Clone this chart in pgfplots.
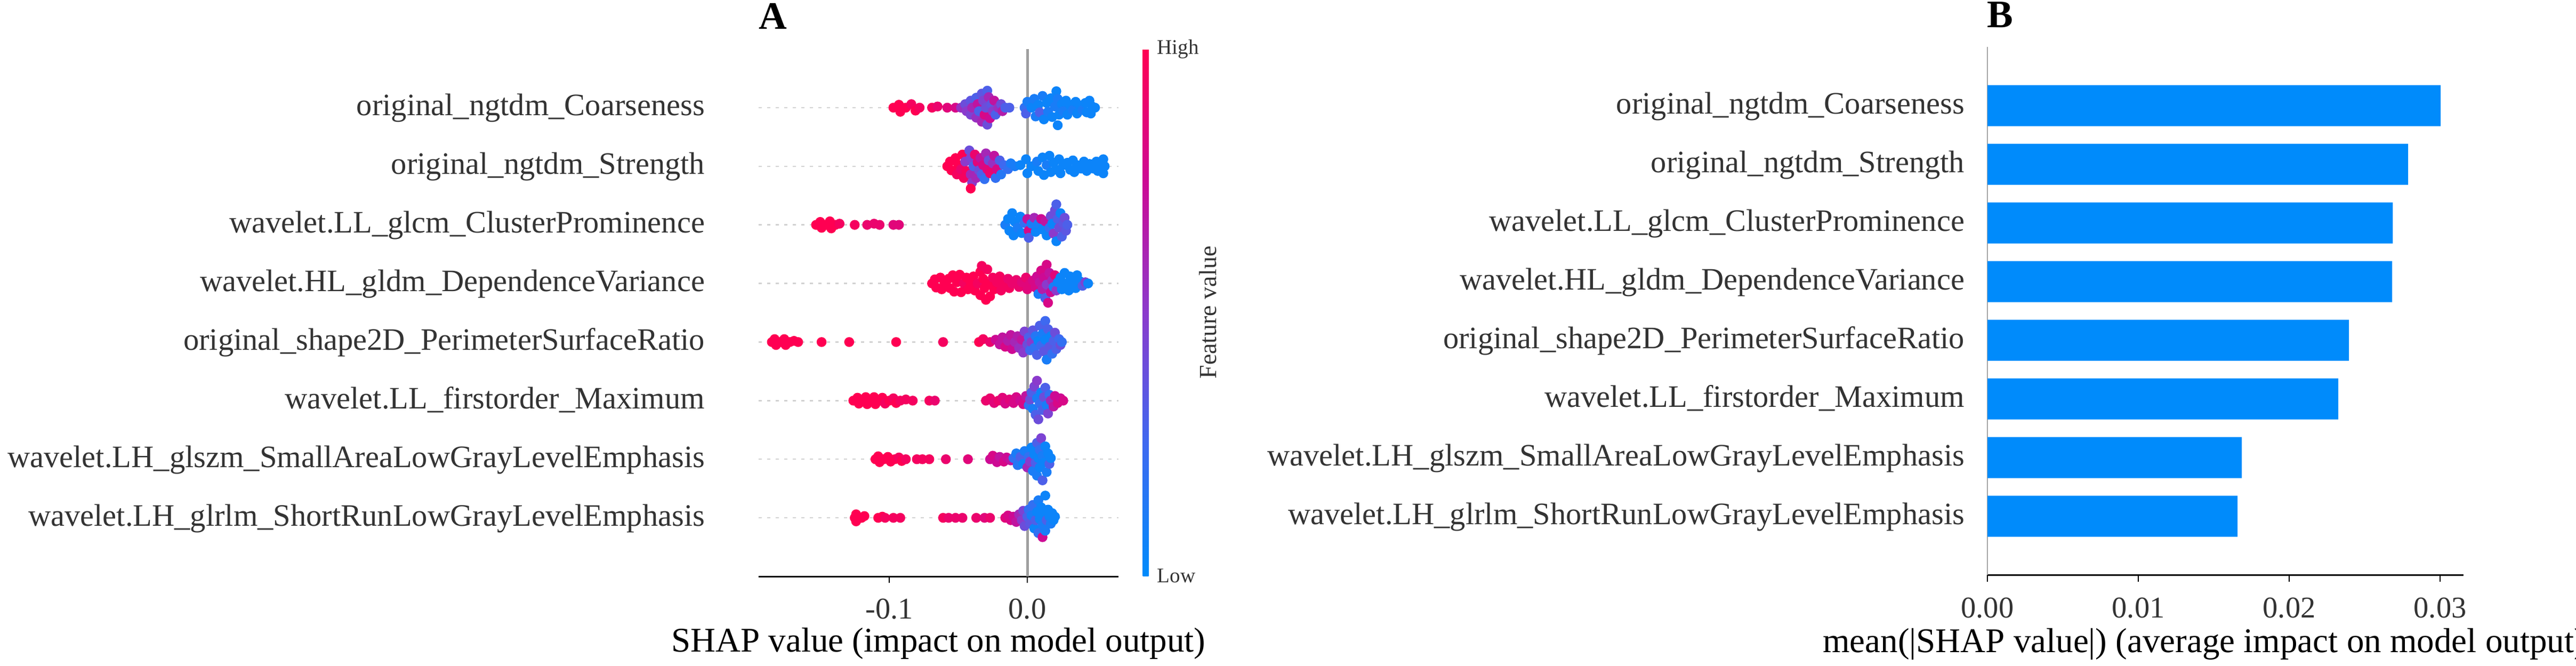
\documentclass[border=0pt]{standalone}
\usepackage{pgfplots}
\pgfplotsset{compat=1.18}
\usepackage{fontspec}
\setmainfont{Liberation Serif}

\definecolor{shapblue}{RGB}{0,139,251}
\definecolor{txt}{RGB}{51,51,51}
\newcommand{\lab}{\fontsize{11.7}{12}\selectfont}
\newcommand{\tck}{\fontsize{11.3}{12}\selectfont}
\newcommand{\xl}{\fontsize{13}{14}\selectfont}

\pgfplotsset{
  colormap={shap}{rgb255=(0,139,251) rgb255=(62,105,240) rgb255=(139,58,204) rgb255=(205,10,148) rgb255=(255,0,82)},
  bee/.style={scatter, only marks, mark=*, mark size=1.65pt, point meta=explicit,
    scatter/use mapped color={draw=mapped color, fill=mapped color}},
}

\begin{document}
\begin{tikzpicture}
\path[use as bounding box] (0,0) rectangle (966.4pt,249.6pt);

% A: beeswarm
\begin{axis}[
  at={(284.6pt,33.4pt)}, anchor=south west,
  scale only axis, width=135pt, height=197.8pt,
  xmin=-0.1946, xmax=0.066, ymin=0, ymax=9,
  axis x line*=bottom, axis y line*=left,
  y axis line style={draw=none},
  x axis line style={line width=0.6pt},
  tick align=outside, major tick length=2.4pt,
  xtick={-0.1,0}, xticklabels={-0.1,0.0},
  xtick style={black, line width=0.5pt},
  xticklabel style={font=\tck, text=txt, anchor=base, inner sep=0pt, yshift=-13.4pt},
  ytick={1,...,8},
  yticklabels={wavelet.LH\_glrlm\_ShortRunLowGrayLevelEmphasis,
    wavelet.LH\_glszm\_SmallAreaLowGrayLevelEmphasis,
    wavelet.LL\_firstorder\_Maximum,
    original\_shape2D\_PerimeterSurfaceRatio,
    wavelet.HL\_gldm\_DependenceVariance,
    wavelet.LL\_glcm\_ClusterProminence,
    original\_ngtdm\_Strength,
    original\_ngtdm\_Coarseness},
  ytick style={draw=none},
  yticklabel style={font=\lab, text=txt, anchor=base east, inner sep=0pt, xshift=-17.6pt, yshift=-3pt},
  ymajorgrids, major grid style={gray!35, line width=0.5pt, dash pattern=on 1.2pt off 2pt},
  xlabel={SHAP value (impact on model output)},
  xlabel style={font=\xl, at={(rel axis cs:0.5,0)}, anchor=base, inner sep=0pt, yshift=-28.2pt},
  colormap name=shap, point meta min=0, point meta max=1,
  colorbar,
  colorbar style={
    at={(parent axis.north east)}, anchor=north west, xshift=0.6pt,
    scale only axis, width=2.2pt, height=197.6pt,
    ytick={0,1}, yticklabels={Low,High},
    yticklabel style={font=\fontsize{7.8}{8}\selectfont, text=txt, anchor=west, inner sep=0pt, xshift=3pt},
    major tick length=0pt, ytick style={draw=none}, xtick=\empty,
    axis line style={draw=none},
    ylabel={Feature value},
    ylabel style={font=\fontsize{9.2}{10}\selectfont, text=txt, at={(rel axis cs:11.1,0.5)}, anchor=center, rotate=0},
  },
]
\addplot[gray!75, line width=1pt, forget plot] coordinates {(0,0) (0,9)};

% original_ngtdm_Coarseness
\addplot[bee] table[x=x, y=y, meta=c, row sep=\\] {x y c\\
-0.097 8 1\\ -0.093 8.05 1\\ -0.092 7.93 1\\ -0.088 8 1\\ -0.084 8.06 0.95\\ -0.081 7.95 1\\ -0.078 8 0.95\\
-0.069 8 0.95\\ -0.065 8.02 0.9\\ -0.058 8 0.85\\ -0.052 8 0.8\\
-0.048 8 0.55\\ -0.045 8.06 0.4\\ -0.044 7.94 0.5\\ -0.041 8.12 0.35\\ -0.041 7.88 0.45\\ -0.040 8 0.6\\
-0.037 8.17 0.3\\ -0.037 7.83 0.55\\ -0.036 8.06 0.7\\ -0.035 7.94 0.3\\ -0.033 8.24 0.35\\ -0.033 7.76 0.6\\
-0.032 8.12 0.45\\ -0.031 7.88 0.8\\ -0.030 8 0.4\\ -0.029 8.29 0.3\\ -0.029 7.71 0.4\\ -0.028 8.18 0.6\\
-0.027 7.82 0.75\\ -0.026 8.06 0.35\\ -0.025 7.94 0.5\\ -0.024 8.12 0.7\\ -0.023 7.88 0.3\\ -0.021 8 0.55\\
-0.019 8.06 0.4\\ -0.018 7.94 0.65\\ -0.016 8 0.3\\ -0.013 8 0.3\\
-0.002 8 0.2\\ -0.001 7.9 0.3\\ 0.000 8.1 0.1\\ 0.003 8 0.05\\ 0.005 8.15 0.1\\ 0.006 7.85 0.1\\
0.008 8.05 0.05\\ 0.009 7.92 0.3\\ 0.011 8.2 0.1\\ 0.012 7.8 0.05\\ 0.014 8.08 0.05\\ 0.015 7.93 0.1\\
0.017 8.16 0.05\\ 0.018 7.84 0.05\\ 0.020 8.02 0.1\\ 0.021 8.28 0.05\\ 0.022 7.7 0.05\\ 0.022 8.15 0.1\\
0.023 7.88 0.05\\ 0.025 8.06 0.05\\ 0.026 7.94 0.1\\ 0.028 8.12 0.05\\ 0.029 7.88 0.05\\ 0.031 8.04 0.05\\
0.033 7.96 0.1\\ 0.035 8.1 0.05\\ 0.036 7.9 0.05\\ 0.038 8.04 0.05\\ 0.040 7.96 0.1\\ 0.042 8.08 0.05\\
0.043 7.92 0.05\\ 0.045 8.12 0.05\\ 0.046 7.9 0.05\\ 0.047 8.02 0.05\\ 0.049 8 0.05\\
};

% original_ngtdm_Strength
\addplot[bee] table[x=x, y=y, meta=c, row sep=\\] {x y c\\
-0.058 7 1\\ -0.056 7.08 1\\ -0.055 6.93 1\\ -0.052 7.14 1\\ -0.051 6.86 0.95\\ -0.050 7.02 1\\
-0.048 6.95 0.9\\ -0.047 7.2 1\\ -0.046 6.8 0.95\\ -0.045 7.08 0.5\\ -0.044 6.92 0.95\\ -0.042 7.27 0.4\\
-0.041 7.14 0.45\\ -0.041 6.86 0.6\\ -0.040 6.72 0.5\\ -0.041 6.62 1\\ -0.039 7.0 0.3\\ -0.038 7.2 0.9\\
-0.037 6.8 0.6\\ -0.036 7.07 0.85\\ -0.035 6.93 0.4\\ -0.034 7.14 0.7\\ -0.033 6.86 0.3\\ -0.032 7.02 0.8\\
-0.031 6.78 0.2\\ -0.030 7.22 0.6\\ -0.029 6.95 0.85\\ -0.028 7.1 0.4\\ -0.027 6.88 0.9\\ -0.025 7.05 0.55\\
-0.024 7.18 0.7\\ -0.023 6.8 0.2\\ -0.022 6.95 0.8\\ -0.020 7.1 0.3\\ -0.019 6.86 0.15\\ -0.017 7.02 0.25\\
-0.014 6.95 0.2\\ -0.012 7.05 0.1\\ -0.009 7 0.1\\ -0.005 7.02 0.05\\ -0.001 7.12 0.05\\ 0.000 6.88 0.05\\
0.003 7 0.05\\ 0.007 7.08 0.1\\ 0.008 6.92 0.05\\ 0.011 7.15 0.05\\ 0.012 6.85 0.05\\ 0.014 7.02 0.1\\
0.016 7.18 0.05\\ 0.017 6.9 0.05\\ 0.019 7.06 0.05\\ 0.021 6.94 0.05\\ 0.023 7.12 0.05\\ 0.024 6.88 0.05\\
0.026 7.02 0.05\\ 0.029 7.06 0.05\\ 0.031 6.94 0.05\\ 0.033 7.1 0.05\\ 0.034 6.9 0.05\\ 0.036 7.02 0.05\\
0.039 6.96 0.05\\ 0.041 7.08 0.05\\ 0.043 6.92 0.05\\ 0.045 7.04 0.05\\ 0.048 6.96 0.05\\ 0.050 7.08 0.05\\
0.051 6.92 0.05\\ 0.053 7.02 0.05\\ 0.055 7.12 0.05\\ 0.055 6.88 0.05\\ 0.056 7 0.05\\
};

% wavelet.LL_glcm_ClusterProminence
\addplot[bee] table[x=x, y=y, meta=c, row sep=\\] {x y c\\
-0.153 6 1\\ -0.150 6.05 1\\ -0.149 5.95 1\\ -0.146 6 1\\ -0.143 6.06 1\\ -0.142 5.94 1\\ -0.139 6 1\\
-0.136 6.02 0.95\\ -0.125 6 0.95\\ -0.116 6 0.9\\ -0.111 6.02 0.9\\ -0.107 6 0.9\\ -0.097 6 0.85\\ -0.093 6 0.85\\
-0.016 6 0.1\\ -0.014 6.1 0.05\\ -0.013 5.9 0.05\\ -0.011 6.2 0.05\\ -0.010 5.82 0.05\\ -0.009 6.05 0.05\\
-0.007 5.95 0.1\\ -0.005 6.14 0.05\\ -0.004 5.86 0.05\\ -0.002 6.03 0.2\\ 0.000 6.1 0.7\\ 0.001 5.9 0.8\\
0.001 5.78 0.3\\ 0.003 6.02 0.1\\ 0.005 6.12 0.6\\ 0.006 5.88 0.05\\ 0.008 6.02 0.1\\ 0.010 6.1 0.75\\
0.011 5.92 0.05\\ 0.013 6.06 0.7\\ 0.014 5.82 0.05\\ 0.016 5.95 0.2\\ 0.017 6.15 0.4\\ 0.018 6.02 0.05\\
0.019 5.85 0.5\\ 0.020 6.25 0.4\\ 0.021 6.35 0.3\\ 0.021 5.72 0.05\\ 0.022 6.1 0.3\\ 0.023 5.95 0.4\\
0.024 6.2 0.05\\ 0.025 5.8 0.3\\ 0.026 6.03 0.35\\ 0.027 6.12 0.4\\ 0.028 5.9 0.35\\ 0.029 6.0 0.3\\
};

% wavelet.HL_gldm_DependenceVariance
\addplot[bee] table[x=x, y=y, meta=c, row sep=\\] {x y c\\
-0.069 5 1\\ -0.067 5.07 1\\ -0.066 4.93 1\\ -0.063 5.1 1\\ -0.062 4.9 1\\ -0.060 5 1\\ -0.057 5.08 1\\
-0.056 4.92 1\\ -0.054 5.14 1\\ -0.053 4.86 1\\ -0.051 5.02 1\\ -0.049 5.15 1\\ -0.048 4.85 1\\ -0.046 5 0.95\\
-0.044 5.1 1\\ -0.043 4.9 1\\ -0.041 5.02 1\\ -0.039 5.12 1\\ -0.038 4.88 1\\ -0.036 5 0.95\\ -0.034 5.2 1\\
-0.034 4.8 1\\ -0.033 5.3 0.95\\ -0.032 5.08 1\\ -0.031 4.92 1\\ -0.030 4.72 1\\ -0.029 5.24 0.95\\ -0.028 5.0 1\\
-0.027 4.78 1\\ -0.025 5.1 0.95\\ -0.024 4.9 1\\ -0.022 5.02 0.95\\ -0.020 5.12 0.95\\ -0.019 4.88 0.95\\
-0.017 5 0.95\\ -0.014 5.08 0.9\\ -0.013 4.92 0.95\\ -0.011 5 0.9\\ -0.008 5.06 0.9\\ -0.006 4.94 0.9\\
-0.004 5.02 0.85\\ -0.001 5.1 0.9\\ 0.000 4.9 0.85\\ 0.002 5 0.85\\ 0.004 5.05 0.8\\
0.006 4.93 0.8\\ 0.007 5.12 0.75\\ 0.008 4.82 0.1\\ 0.009 5.02 0.7\\ 0.010 5.22 0.8\\ 0.011 4.9 0.65\\
0.012 5.1 0.75\\ 0.013 4.75 0.3\\ 0.014 5.32 0.8\\ 0.014 4.98 0.5\\ 0.015 4.67 0.8\\ 0.016 5.18 0.7\\
0.017 4.85 0.75\\ 0.018 5.05 0.6\\ 0.019 4.94 0.1\\ 0.020 5.14 0.85\\ 0.021 4.88 0.5\\
0.022 5.02 0.05\\ 0.024 5.1 0.05\\ 0.025 4.9 0.05\\ 0.027 5.18 0.05\\ 0.028 5.0 0.05\\ 0.030 4.88 0.05\\
0.031 5.12 0.05\\ 0.033 5.02 0.05\\ 0.035 4.92 0.05\\ 0.036 5.14 0.05\\ 0.038 5.04 0.05\\ 0.040 4.96 0.3\\
0.042 5.02 0.45\\ 0.044 5 0.05\\
};

% original_shape2D_PerimeterSurfaceRatio
\addplot[bee] table[x=x, y=y, meta=c, row sep=\\] {x y c\\
-0.185 4 1\\ -0.183 4.05 1\\ -0.182 3.95 1\\ -0.179 4 1\\ -0.176 4.05 1\\ -0.175 3.95 1\\ -0.172 4 1\\
-0.169 4.02 1\\ -0.166 4 1\\ -0.149 4 1\\ -0.129 4 1\\ -0.095 4 1\\ -0.061 4 0.95\\ -0.035 4 1\\
-0.032 4.05 0.95\\ -0.027 4 0.9\\ -0.023 4.04 0.75\\ -0.020 3.96 0.7\\ -0.018 4.08 0.7\\ -0.016 3.92 0.8\\
-0.014 4.02 0.65\\ -0.012 4.12 0.7\\ -0.011 3.88 0.75\\ -0.009 4.0 0.6\\ -0.007 4.1 0.65\\ -0.006 3.9 0.55\\
-0.004 4.04 0.7\\ -0.003 3.82 0.5\\ -0.002 4.18 0.45\\ 0.000 3.96 0.4\\ 0.001 4.08 0.3\\ 0.002 3.86 0.25\\
0.003 4.0 0.5\\ 0.004 4.2 0.35\\ 0.005 3.9 0.2\\ 0.006 4.1 0.15\\ 0.007 3.78 0.3\\ 0.008 4.02 0.05\\
0.009 4.28 0.3\\ 0.010 3.94 0.25\\ 0.011 4.14 0.1\\ 0.012 3.84 0.35\\ 0.013 4.36 0.25\\ 0.013 4.04 0.05\\
0.014 3.7 0.1\\ 0.015 4.22 0.3\\ 0.016 3.92 0.35\\ 0.017 4.1 0.05\\ 0.018 3.8 0.2\\ 0.019 4.02 0.3\\
0.020 4.16 0.4\\ 0.021 3.88 0.3\\ 0.023 4.05 0.25\\ 0.024 3.95 0.4\\ 0.025 4.0 0.2\\
};

% wavelet.LL_firstorder_Maximum
\addplot[bee] table[x=x, y=y, meta=c, row sep=\\] {x y c\\
-0.126 3 1\\ -0.123 3.05 1\\ -0.122 2.95 1\\ -0.119 3 1\\ -0.117 3.06 1\\ -0.116 2.94 1\\ -0.113 3 1\\
-0.111 3.06 1\\ -0.110 2.94 1\\ -0.107 3 1\\ -0.105 3.05 1\\ -0.103 2.95 0.95\\ -0.100 3 1\\ -0.097 3.04 0.95\\
-0.095 2.96 1\\ -0.092 3 0.95\\ -0.088 3.02 0.95\\ -0.083 3 0.95\\ -0.071 3 0.95\\ -0.067 3 0.9\\
-0.030 3 0.9\\ -0.027 3.04 0.9\\ -0.024 2.96 0.85\\ -0.021 3 0.9\\ -0.018 3.05 0.85\\ -0.016 2.95 0.8\\
-0.013 3.02 0.85\\ -0.010 2.96 0.8\\ -0.008 3.06 0.8\\ -0.005 3 0.75\\ -0.003 2.94 0.8\\ -0.001 3.08 0.7\\
0.001 2.92 0.2\\ 0.002 3.02 0.4\\ 0.003 3.14 0.3\\ 0.004 2.86 0.1\\ 0.005 3.24 0.45\\ 0.006 2.76 0.3\\
0.007 3.34 0.5\\ 0.007 3.04 0.1\\ 0.008 2.68 0.4\\ 0.009 2.95 0.2\\ 0.010 3.14 0.05\\ 0.011 2.84 0.3\\
0.012 3.06 0.4\\ 0.013 3.22 0.3\\ 0.014 2.92 0.1\\ 0.015 2.78 0.45\\ 0.016 3.1 0.2\\ 0.017 3.0 0.6\\
0.019 2.9 0.7\\ 0.020 3.08 0.75\\ 0.022 2.96 0.8\\ 0.024 3.04 0.75\\ 0.026 3.0 0.8\\
};

% wavelet.LH_glszm_SmallAreaLowGrayLevelEmphasis
\addplot[bee] table[x=x, y=y, meta=c, row sep=\\] {x y c\\
-0.110 2 1\\ -0.108 2.05 1\\ -0.107 1.95 1\\ -0.104 2 1\\ -0.101 2.04 1\\ -0.099 1.96 1\\ -0.096 2 1\\
-0.093 2.03 0.95\\ -0.091 1.97 1\\ -0.088 2 0.95\\ -0.080 2 0.95\\ -0.076 2 0.95\\ -0.071 2 0.95\\ -0.059 2 0.9\\
-0.043 2 0.85\\ -0.027 2 0.75\\ -0.025 2.06 0.8\\ -0.022 1.95 0.75\\ -0.020 2.04 0.7\\ -0.017 1.96 0.8\\
-0.015 2.03 0.75\\ -0.012 1.98 0.7\\ -0.010 2.02 0.2\\ -0.008 2.1 0.1\\ -0.007 1.9 0.15\\ -0.005 2.04 0.3\\
-0.003 1.92 0.05\\ -0.002 2.14 0.1\\ 0.000 1.86 0.6\\ 0.001 2.04 0.2\\ 0.002 1.96 0.5\\ 0.003 2.2 0.05\\
0.004 1.8 0.1\\ 0.005 2.08 0.05\\ 0.006 1.94 0.3\\ 0.007 2.28 0.3\\ 0.007 1.72 0.1\\ 0.008 2.02 0.05\\
0.009 2.16 0.2\\ 0.009 1.86 0.05\\ 0.010 2.36 0.45\\ 0.011 1.64 0.3\\ 0.011 2.06 0.1\\ 0.012 1.94 0.05\\
0.013 2.22 0.05\\ 0.014 1.78 0.1\\ 0.015 2.1 0.05\\ 0.016 1.92 0.3\\ 0.017 2.02 0.05\\
};

% wavelet.LH_glrlm_ShortRunLowGrayLevelEmphasis
\addplot[bee] table[x=x, y=y, meta=c, row sep=\\] {x y c\\
-0.125 1 1\\ -0.124 1.06 1\\ -0.124 0.94 1\\ -0.120 1 1\\ -0.118 1.03 1\\ -0.108 1 1\\ -0.105 1.02 1\\
-0.103 1 0.95\\ -0.097 1 0.95\\ -0.092 1 0.95\\ -0.061 1 0.95\\ -0.057 1 0.9\\ -0.052 1 0.9\\ -0.047 1 0.9\\
-0.037 1 0.9\\ -0.031 1 0.85\\ -0.027 1 0.9\\ -0.016 1 0.85\\ -0.014 1.04 0.8\\ -0.012 0.96 0.8\\
-0.010 1.02 0.75\\ -0.008 0.93 0.7\\ -0.006 1.06 0.6\\ -0.004 0.96 0.5\\ -0.003 1.12 0.45\\ -0.002 0.86 0.4\\
0.000 1.02 0.3\\ 0.001 1.14 0.2\\ 0.002 0.9 0.35\\ 0.003 1.04 0.1\\ 0.004 1.22 0.2\\ 0.005 0.82 0.05\\
0.006 0.96 0.3\\ 0.007 1.1 0.05\\ 0.008 1.3 0.1\\ 0.008 0.74 0.2\\ 0.009 0.98 0.05\\ 0.010 1.18 0.05\\
0.011 0.67 0.75\\ 0.011 0.88 0.1\\ 0.012 1.06 0.05\\ 0.013 1.38 0.05\\ 0.013 0.78 0.1\\ 0.014 0.96 0.3\\
0.015 1.14 0.05\\ 0.016 1.02 0.05\\ 0.017 0.9 0.1\\ 0.018 1.08 0.05\\ 0.019 0.96 0.05\\ 0.020 1.02 0.05\\
};
\end{axis}

% B: mean |SHAP| bars
\begin{axis}[
  at={(745.6pt,34pt)}, anchor=south west,
  scale only axis, width=178.6pt, height=198pt,
  xmin=0, xmax=0.03155, ymin=0, ymax=9,
  axis x line*=bottom, axis y line*=left,
  y axis line style={gray!70, line width=0.4pt},
  x axis line style={line width=0.6pt},
  tick align=outside, major tick length=2.6pt,
  xtick={0,0.01,0.02,0.03}, xticklabels={0.00,0.01,0.02,0.03},
  xtick style={black, line width=0.5pt},
  xticklabel style={font=\tck, text=txt, anchor=base, inner sep=0pt, yshift=-13.4pt},
  ytick={1,...,8},
  yticklabels={wavelet.LH\_glrlm\_ShortRunLowGrayLevelEmphasis,
    wavelet.LH\_glszm\_SmallAreaLowGrayLevelEmphasis,
    wavelet.LL\_firstorder\_Maximum,
    original\_shape2D\_PerimeterSurfaceRatio,
    wavelet.HL\_gldm\_DependenceVariance,
    wavelet.LL\_glcm\_ClusterProminence,
    original\_ngtdm\_Strength,
    original\_ngtdm\_Coarseness},
  ytick style={draw=none},
  yticklabel style={font=\lab, text=txt, anchor=base east, inner sep=0pt, xshift=-5.8pt, yshift=-3pt},
  xlabel={mean(|SHAP value|) (average impact on model output)},
  xlabel style={font=\xl, at={(rel axis cs:0.5,0)}, anchor=base, inner sep=0pt, xshift=-8pt, yshift=-29pt},
]
\addplot[xbar, bar width=0.7, fill=shapblue, draw=none] coordinates {
(0.03003,8) (0.02788,7) (0.02686,6) (0.02682,5) (0.02396,4) (0.02325,3) (0.01686,2) (0.01657,1)};
\end{axis}

\node[font=\bfseries\fontsize{14.6}{15}\selectfont] at (290pt,243.6pt) {A};
\node[font=\bfseries\fontsize{14.6}{15}\selectfont] at (750.4pt,244pt) {B};
\end{tikzpicture}
\end{document}
